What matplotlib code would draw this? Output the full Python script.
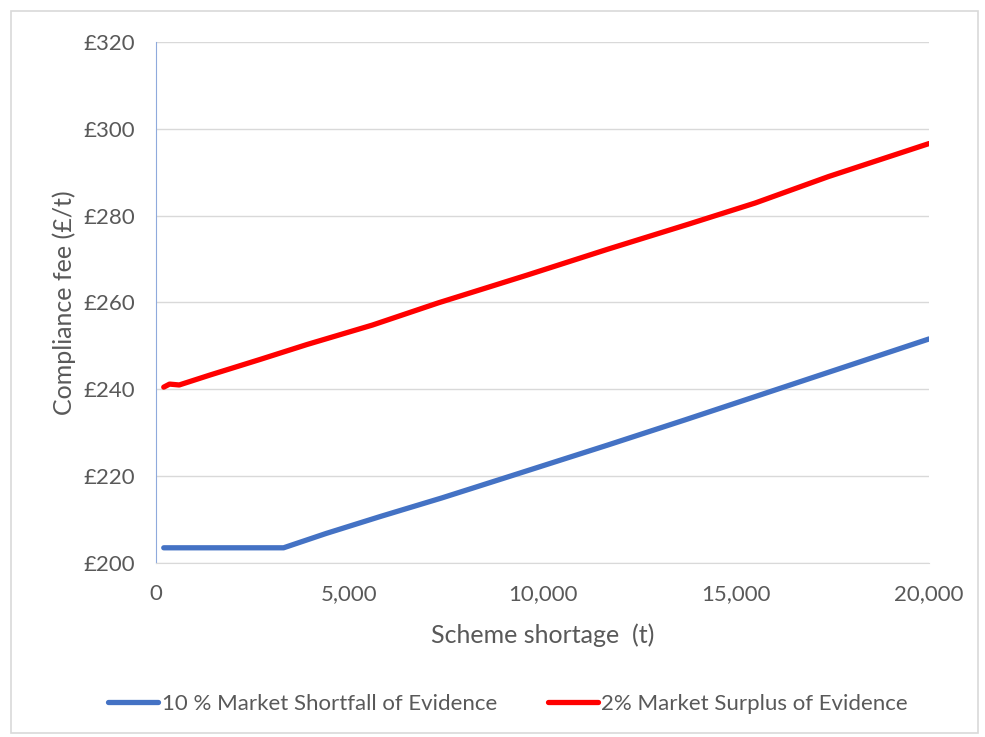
import matplotlib.pyplot as plt
from matplotlib.patches import Rectangle
from matplotlib.ticker import FuncFormatter

# scheme shortage (t) and compliance fee (£/t) for each scenario
shortfall_x = [200, 3300, 4400, 5800, 7400, 9200, 11700, 13700, 20000]
shortfall_fee = [203.5, 203.5, 206.8, 210.7, 215.0, 220.1, 227.2, 233.0, 251.6]

surplus_x = [200, 350, 600, 1400, 2700, 3900, 5600, 7300, 9600, 11700,
             13800, 15500, 17400, 20000]
surplus_fee = [240.5, 241.2, 241.0, 243.3, 246.9, 250.3, 254.8, 259.9, 266.3,
               272.3, 278.1, 282.9, 289.0, 296.6]

series_names = ['10 % Market Shortfall of Evidence', '2% Market Surplus of Evidence']

plt.rcParams['font.family'] = ['Lato', 'DejaVu Sans']
grey = '#595959'

fig = plt.figure(figsize=(9.85, 7.37), dpi=100)
fig.patches.append(Rectangle((0.011, 0.006), 0.982, 0.979, transform=fig.transFigure,
                             fill=False, edgecolor='#d9d9d9', linewidth=1.2))

ax = fig.add_axes([0.1584, 0.2361, 0.7848, 0.707])
ax.plot(shortfall_x, shortfall_fee, color='#4472c4', linewidth=3.8,
        solid_capstyle='round', label=series_names[0])
ax.plot(surplus_x, surplus_fee, color='#ff0000', linewidth=3.8,
        solid_capstyle='round', label=series_names[1])

ax.set_xlim(0, 20000)
ax.set_ylim(200, 320)
ax.set_xticks(range(0, 20001, 5000))
ax.set_yticks(range(200, 321, 20))
ax.xaxis.set_major_formatter(FuncFormatter(lambda v, p: f'{v:,.0f}'))
ax.yaxis.set_major_formatter(FuncFormatter(lambda v, p: f'£{v:.0f}'))
ax.tick_params(length=0, labelsize=16, colors=grey)
ax.tick_params(axis='y', pad=15)
ax.tick_params(axis='x', pad=15)

ax.grid(axis='y', color='#d9d9d9', linewidth=1)
ax.set_axisbelow(True)
for side in ['top', 'right']:
    ax.spines[side].set_visible(False)
ax.spines['left'].set_color('#8faadc')
ax.spines['bottom'].set_color('#d9d9d9')

ax.set_xlabel('Scheme shortage  (t)', fontsize=18, color=grey, labelpad=14)
ax.set_ylabel('Compliance fee (£/t)', fontsize=18, color=grey, labelpad=5)

fig.legend(loc='center', bbox_to_anchor=(0.516, 1 - 704 / 737), ncol=2,
           frameon=False, fontsize=16, labelcolor=grey, handlelength=2.25,
           handletextpad=0.15, columnspacing=2.3)

fig.savefig('out.png', dpi=100)
